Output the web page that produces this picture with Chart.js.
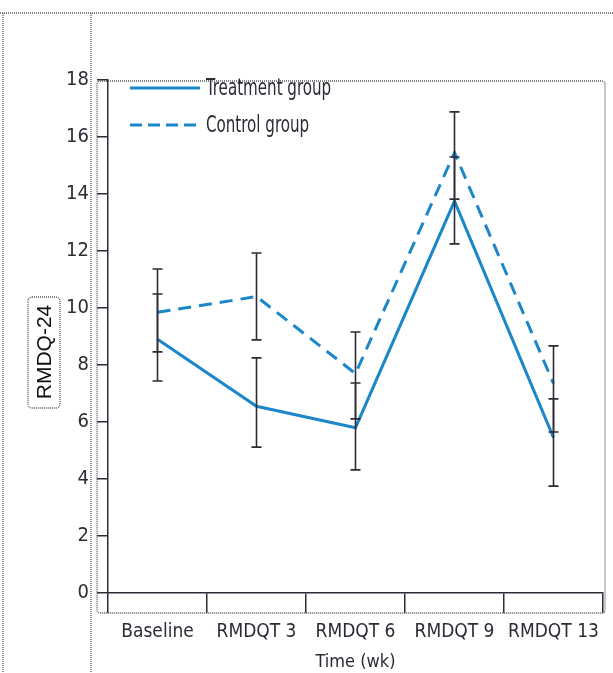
<!DOCTYPE html>
<html>
<head>
<meta charset="utf-8">
<script src="https://cdn.jsdelivr.net/npm/chart.js@4.4.0/dist/chart.umd.min.js"></script>
<style>
html,body{margin:0;padding:0;background:#fff;}
canvas{display:block;}
</style>
</head>
<body>
<canvas id="c" width="613" height="673"></canvas>
<script>
// ---- data ----
const categories = ["Baseline", "RMDQT 3", "RMDQT 6", "RMDQT 9", "RMDQT 13"];
const treatmentMean = [8.9, 6.55, 5.8, 13.75, 5.45];
const treatmentLow  = [7.44, 5.12, 4.32, 12.25, 3.75];
const treatmentHigh = [10.49, 8.25, 7.37, 15.3, 6.81];
const controlMean = [9.85, 10.4, 7.7, 15.45, 7.35];
const controlLow  = [8.46, 8.88, 6.11, 13.82, 5.65];
const controlHigh = [11.37, 11.93, 9.16, 16.88, 8.67];
const yTicks = [0, 2, 4, 6, 8, 10, 12, 14, 16, 18];
const seriesNames = ["Treatment group", "Control group"];
const xTitle = "Time (wk)";
const yTitle = "RMDQ-24";

const FONT = "'Liberation Sans Narrow','DejaVu Sans Condensed','Roboto Condensed',sans-serif";
const BLUE = "#1b87c9";
const INK = "#2f2a36";

const errorBars = {
  id: 'errorBars',
  afterDatasetsDraw(chart) {
    const {ctx, scales: {x, y}} = chart;
    const sets = [[treatmentLow, treatmentHigh], [controlLow, controlHigh]];
    ctx.save();
    ctx.strokeStyle = INK;
    ctx.lineWidth = 1.6;
    sets.forEach(([lo, hi]) => {
      lo.forEach((v, i) => {
        const px = x.getPixelForValue(i);
        const y1 = y.getPixelForValue(v), y2 = y.getPixelForValue(hi[i]);
        ctx.beginPath();
        ctx.moveTo(px, y1); ctx.lineTo(px, y2);
        ctx.moveTo(px - 5, y1); ctx.lineTo(px + 5, y1);
        ctx.moveTo(px - 5, y2); ctx.lineTo(px + 5, y2);
        ctx.stroke();
      });
    });
    ctx.restore();
  }
};

function dottedRoundRect(ctx, x0, y0, x1, y1, r) {
  ctx.beginPath();
  ctx.moveTo(x0 + r, y0);
  ctx.lineTo(x1 - r, y0); ctx.arcTo(x1, y0, x1, y0 + r, r);
  ctx.lineTo(x1, y1 - r); ctx.arcTo(x1, y1, x1 - r, y1, r);
  ctx.lineTo(x0 + r, y1); ctx.arcTo(x0, y1, x0, y1 - r, r);
  ctx.lineTo(x0, y0 + r); ctx.arcTo(x0, y0, x0 + r, y0, r);
  ctx.stroke();
}

const decor = {
  id: 'decor',
  afterDraw(chart) {
    const {ctx, chartArea: a} = chart;
    ctx.save();
    ctx.strokeStyle = '#555';
    ctx.lineWidth = 1.3;
    ctx.setLineDash([1, 1]);
    // outer frame lines
    ctx.beginPath();
    ctx.moveTo(0, 13); ctx.lineTo(613, 13);
    ctx.moveTo(3, 13); ctx.lineTo(3, 673);
    ctx.moveTo(91, 13); ctx.lineTo(91, 673);
    ctx.stroke();
    // plot box
    dottedRoundRect(ctx, a.left - 11, a.top + 1, a.right + 2, a.bottom + 20, 3);
    // y title box
    dottedRoundRect(ctx, 28, 297, 60, 408, 4);
    ctx.setLineDash([]);
    // y title
    ctx.fillStyle = '#111';
    ctx.font = "21px 'Liberation Sans', Arial, sans-serif";
    ctx.textAlign = 'center';
    ctx.textBaseline = 'middle';
    ctx.translate(45, 352);
    ctx.rotate(-Math.PI / 2);
    ctx.fillText(yTitle, 0, 0);
    ctx.restore();

    // legend
    ctx.save();
    chart.data.datasets.forEach((ds, i) => {
      const ly = 88 + i * 37;
      ctx.strokeStyle = ds.borderColor;
      ctx.lineWidth = 3;
      ctx.setLineDash(i ? [12, 6] : []);
      ctx.beginPath();
      ctx.moveTo(130, ly); ctx.lineTo(200, ly);
      ctx.stroke();
      ctx.setLineDash([]);
      ctx.save();
      ctx.fillStyle = INK;
      ctx.font = "23px " + FONT;
      ctx.textAlign = 'left';
      ctx.textBaseline = 'middle';
      ctx.translate(206, ly + 1);
      ctx.scale(0.73, 1);
      ctx.fillText(ds.label, 0, 0);
      ctx.restore();
    });
    ctx.restore();
  }
};

new Chart(document.getElementById('c'), {
  type: 'line',
  data: {
    labels: categories,
    datasets: [
      { label: seriesNames[0], data: treatmentMean, borderColor: BLUE, borderWidth: 3, pointRadius: 0, fill: false, tension: 0 },
      { label: seriesNames[1], data: controlMean, borderColor: BLUE, borderWidth: 3, borderDash: [13, 8], pointRadius: 0, fill: false, tension: 0 }
    ]
  },
  options: {
    responsive: false,
    animation: false,
    layout: { padding: { left: 0, right: 10, top: 80, bottom: 0 } },
    plugins: { legend: { display: false }, tooltip: { enabled: false } },
    scales: {
      x: {
        type: 'category',
        offset: true,
        grid: { offset: true, drawOnChartArea: false, drawTicks: true, tickLength: 20, color: INK, lineWidth: 1.5 },
        border: { display: true, color: INK, width: 1.5 },
        ticks: { color: INK, font: { family: FONT, size: 19 }, padding: 8, maxRotation: 0, autoSkip: false },
        title: { display: true, text: xTitle, color: INK, font: { family: FONT, size: 18, lineHeight: 1 }, padding: { top: 0, bottom: 2 } },
        afterFit(s) { s.height = 80; }
      },
      y: {
        min: 0, max: 18,
        afterBuildTicks(s) { s.ticks = yTicks.map(v => ({ value: v })); },
        grid: { drawOnChartArea: false, drawTicks: true, tickLength: 11, color: INK, lineWidth: 1.5 },
        border: { display: true, color: INK, width: 1.5 },
        ticks: { color: INK, font: { family: FONT, size: 20 }, padding: 8 },
        afterFit(s) { s.width = 108; }
      }
    }
  },
  plugins: [errorBars, decor]
});
</script>
</body>
</html>
